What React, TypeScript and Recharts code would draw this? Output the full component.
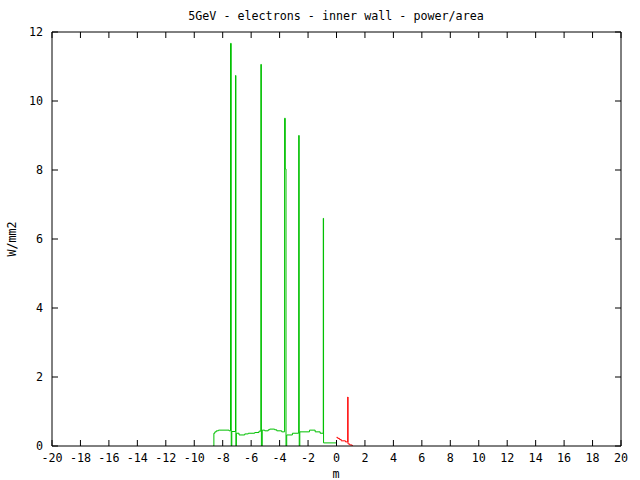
import { LineChart, Line, XAxis, YAxis } from "recharts";

const xTicks = [-20, -18, -16, -14, -12, -10, -8, -6, -4, -2, 0, 2, 4, 6, 8, 10, 12, 14, 16, 18, 20];
const yTicks = [0, 2, 4, 6, 8, 10, 12];

// green: upstream part of the inner wall (m, W/mm2), drawn as steps
const greenX = [
  -8.66, -8.62, -8.55, -8.45, -8.3, -7.55, -7.45, -7.4, -7.36, -7.1, -7.07, -7.04, -6.85, -6.45, -6.2,
  -5.75, -5.45, -5.32, -5.28, -5.22, -5.05, -4.8, -4.7, -4.35, -4.2, -3.85, -3.65, -3.6, -3.55,
  -3.5, -3.1, -2.66, -2.62, -2.58, -1.9, -1.5, -1.15, -0.93, -0.91, 0.0,
];
const greenY = [
  0, 0.37, 0.41, 0.44, 0.46, 0.44, 11.67, 0, 0.42, 10.74, 0, 0.37, 0.32, 0.35, 0.37,
  0.39, 0.43, 11.06, 0, 0.46, 0.44, 0.47, 0.49, 0.47, 0.44, 0.41, 9.5, 8.03, 0,
  0.32, 0.37, 9.0, 0, 0.41, 0.46, 0.41, 0.37, 6.6, 0.09, 0.09,
];

// red: downstream part
const redX = [0.0, 0.09, 0.21, 0.33, 0.63, 0.79, 0.81, 0.93, 1.1, 1.15];
const redY = [0.25, 0.22, 0.19, 0.15, 0.12, 1.42, 0.06, 0.03, 0.0, 0.0];

const greenData = greenX.map((x, i) => ({ x, y: greenY[i] }));
const redData = redX.map((x, i) => ({ x, y: redY[i] }));

const FONT = "'DejaVu Sans Mono', monospace";
const tickStyle = { fontFamily: FONT, fontSize: 11.7, fill: "#000" };
const labelStyle = { position: "absolute" as const, fontFamily: FONT, fontSize: 11.7, lineHeight: "14px", color: "#000" };
const blank = () => "";

export default function App() {
  return (
    <div style={{ position: "absolute", left: 0, top: 0, width: 640, height: 480, background: "#fff" }}>
      <LineChart width={640} height={480} margin={{ top: 0, right: 0, bottom: 0, left: 0 }}>
        <XAxis
          xAxisId="b"
          type="number"
          dataKey="x"
          domain={[-20, 20]}
          ticks={xTicks}
          interval={0}
          allowDataOverflow
          orientation="bottom"
          height={34}
          tickSize={-6}
          tickMargin={14}
          tick={tickStyle}
          axisLine={{ stroke: "#000" }}
          tickLine={{ stroke: "#000" }}
        />
        <XAxis
          xAxisId="t"
          type="number"
          dataKey="x"
          domain={[-20, 20]}
          ticks={xTicks}
          interval={0}
          allowDataOverflow
          orientation="top"
          height={32}
          tickSize={-6}
          tickFormatter={blank}
          axisLine={{ stroke: "#000" }}
          tickLine={{ stroke: "#000" }}
        />
        <YAxis
          yAxisId="l"
          type="number"
          domain={[0, 12]}
          ticks={yTicks}
          interval={0}
          allowDataOverflow
          width={52}
          tickSize={-6}
          tickMargin={15}
          tick={tickStyle}
          axisLine={{ stroke: "#000" }}
          tickLine={{ stroke: "#000" }}
        />
        <YAxis
          yAxisId="r"
          orientation="right"
          type="number"
          domain={[0, 12]}
          ticks={yTicks}
          interval={0}
          allowDataOverflow
          width={19}
          tickSize={-6}
          tickFormatter={blank}
          axisLine={{ stroke: "#000" }}
          tickLine={{ stroke: "#000" }}
        />
        <Line
          xAxisId="b"
          yAxisId="l"
          data={greenData}
          dataKey="y"
          type="stepAfter"
          stroke="#00c000"
          strokeWidth={1}
          dot={false}
          activeDot={false}
          isAnimationActive={false}
        />
        <Line
          xAxisId="b"
          yAxisId="l"
          data={redData}
          dataKey="y"
          type="stepAfter"
          stroke="#ff0000"
          strokeWidth={1}
          dot={false}
          activeDot={false}
          isAnimationActive={false}
        />
      </LineChart>
      <div style={{ ...labelStyle, left: 0, top: 9, width: 672, textAlign: "center" }}>
        5GeV - electrons - inner wall - power/area
      </div>
      <div style={{ ...labelStyle, left: 0, top: 467, width: 672, textAlign: "center" }}>m</div>
      <div
        style={{
          ...labelStyle,
          left: 12,
          top: 239,
          transform: "translate(-50%, -50%) rotate(-90deg)",
          whiteSpace: "nowrap",
        }}
      >
        W/mm2
      </div>
    </div>
  );
}
